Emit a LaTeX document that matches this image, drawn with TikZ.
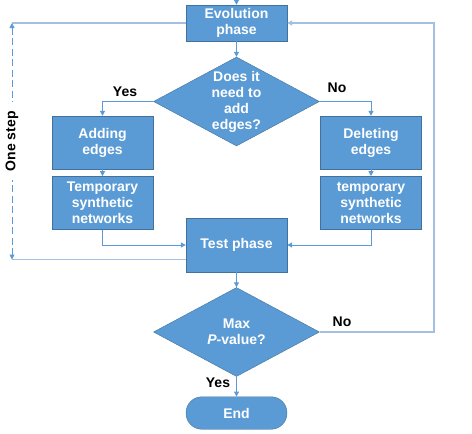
\documentclass[tikz,border=0pt]{standalone}
\usepackage{fontspec}
\setmainfont{Liberation Sans}
\usetikzlibrary{arrows.meta}
\usetikzlibrary{positioning}
\usetikzlibrary{shapes.geometric}

\definecolor{boxfill}{HTML}{5B9BD5}
\definecolor{boxline}{HTML}{41719C}
\definecolor{flowline}{HTML}{5B9BD5}
\definecolor{loopline}{HTML}{A3C0E2}

\begin{document}
\begin{tikzpicture} [x=1pt,y=-1pt,
		proc/.style={rectangle,draw=boxline,fill=boxfill,text=white,align=center,
			font=\bfseries\fontsize{14}{16}\selectfont,inner sep=0pt,
			minimum width=101pt,minimum height=53pt},
		decision/.style={diamond,aspect=1.88,draw=boxline,fill=boxfill,text=white,align=center,
			font=\bfseries\fontsize{14}{16}\selectfont,inner sep=0pt,
			minimum width=166pt,minimum height=89pt},
		label/.style={font=\bfseries\fontsize{14}{16}\selectfont,inner sep=1pt},
		flow/.style={draw=flowline,line width=1pt,-{Triangle[length=5pt,width=5pt]}},
		loop/.style={draw=loopline,line width=1.2pt},
		node distance = 7pt and 0pt]
		
		\useasboundingbox (0,0) rectangle (472,434);
		
		% node positions
		\node[proc,minimum height=36pt] (evo) at (236.5,23) {Evolution\\phase};
		\node[decision] (dec1) at (236.5,101.5) {Does it\\need to\\add\\edges?};
		\node[proc] (add) at (102.5,142.5) {Adding\\edges};
		\node[proc,below = of add] (tmpL) {Temporary\\synthetic\\networks};
		\node[proc] (del) at (371,142.5) {Deleting\\edges};
		\node[proc,below = of del] (tmpR) {temporary\\synthetic\\networks};
		\node[proc,minimum height=54pt] (test) at (236.5,245) {Test phase};
		\node[decision] (dec2) at (236.5,332) {Max\\\textit{P}-value?};
		\node[proc,rounded corners=16pt,minimum height=32.5pt] (end) at (236.5,413) {End};
		
		% labels
		\node[label] (yes1) at (125,92) {Yes};
		\node[label] (no1) at (337,88) {No};
		\node[label] (no2) at (342,322) {No};
		\node[label] (yes2) at (218,383) {Yes};
		
		% straight arrows
		\coordinate (in) at (236.5,0);
		\foreach \a/\b in {in/evo,evo/dec1,add/tmpL,del/tmpR,test/dec2,dec2/end}
		\draw[flow] (\a) -- (\b);
		
		% branches
		\draw[flow] (dec1.west) -| (add.north);
		\draw[flow] (dec1.east) -| (del.north);
		\draw[flow] (tmpL.south) |- (test.west);
		\draw[flow] (tmpR.south) |- (test.east);
		
		% loop back
		\coordinate (rloop) at (434,332);
		\draw[loop,-{Triangle[length=5pt,width=5pt]}] (dec2.east) -- (rloop) |- (evo.east);
		
		% one step
		\coordinate (ltop) at (12,23);
		\coordinate (lbot) at (12,259.5);
		\draw[loop] (evo.west) -- (ltop);
		\draw[loop] ([yshift=-14.5pt]test.west) -- (lbot);
		\draw[draw=flowline,line width=1pt,dash pattern=on 7pt off 3.5pt,
			{Triangle[length=5pt,width=5pt]}-{Triangle[length=5pt,width=5pt]}]
			(ltop) -- node[label,fill=white,rotate=90,inner xsep=9pt] (step) {One step} (lbot);
		
	\end{tikzpicture}
\end{document}
